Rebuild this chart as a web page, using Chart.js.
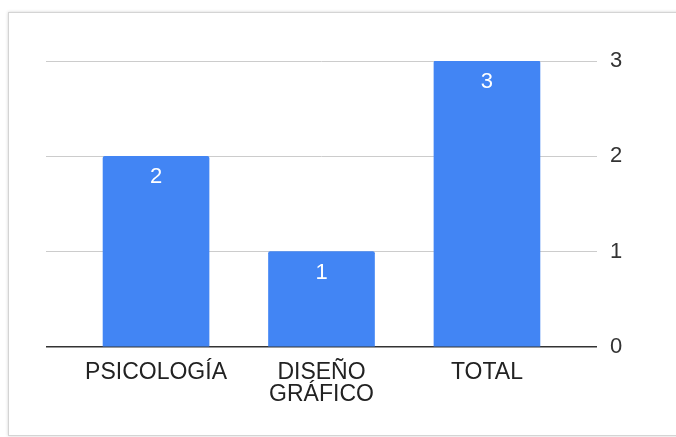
<!DOCTYPE html>
<html>
<head>
<meta charset="utf-8">
<script src="https://cdn.jsdelivr.net/npm/chart.js@4"></script>
<style>
  html, body { margin: 0; padding: 0; background: #fff; }
  body { width: 676px; height: 437px; position: relative; overflow: hidden; font-family: "Liberation Sans", Arial, sans-serif; }
  .frame {
    position: absolute; left: 8px; top: 12px; width: 720px; height: 422px;
    border: 1px solid #d4d4d4;
    box-shadow: 0 0 3px rgba(0, 0, 0, 0.18);
    background: #fff;
  }
  canvas { position: absolute; left: 0; top: 0; }
</style>
</head>
<body>
<div class="frame"></div>
<canvas id="chart" width="676" height="437"></canvas>
<script>
// datos
const categorias = ['PSICOLOGÍA', 'DISEÑO GRÁFICO', 'TOTAL'];
const valores = [2, 1, 3];
const ticksY = [0, 1, 2, 3];

const FUENTE = '"Liberation Sans", Arial, sans-serif';

// etiquetas blancas dentro de cada barra
const etiquetasBarras = {
  id: 'etiquetasBarras',
  afterDatasetsDraw(chart) {
    const ctx = chart.ctx;
    const meta = chart.getDatasetMeta(0);
    ctx.save();
    ctx.fillStyle = '#ffffff';
    ctx.font = '22px ' + FUENTE;
    ctx.textAlign = 'center';
    ctx.textBaseline = 'middle';
    meta.data.forEach((bar, i) => {
      ctx.fillText(String(valores[i]), bar.x, bar.y + 21);
    });
    ctx.restore();
  }
};

new Chart(document.getElementById('chart').getContext('2d'), {
  type: 'bar',
  data: {
    datasets: [{
      data: valores.map((v, i) => ({ x: i, y: v })),
      backgroundColor: '#4285f4',
      borderRadius: 2,
      borderSkipped: 'bottom',
      barThickness: 106,
    }],
  },
  options: {
    responsive: false,
    animation: false,
    layout: { padding: { top: 61, left: 46, right: 39, bottom: 0 } },
    plugins: {
      legend: { display: false },
      tooltip: { enabled: false },
    },
    scales: {
      x: {
        type: 'linear',
        offset: false,
        min: -0.665,
        max: 2.665,
        grid: { display: false, drawTicks: false },
        border: { display: false },
        afterFit(scale) { scale.height = 90; },
        ticks: {
          stepSize: 1,
          includeBounds: false,
          autoSkip: false,
          maxRotation: 0,
          padding: 15,
          color: '#222',
          font: { family: FUENTE, size: 23, lineHeight: '22px' },
          callback: (value) => {
            const c = categorias[value];
            if (c === undefined) return '';
            return c.includes(' ') ? c.split(' ') : c;
          },
        },
      },
      y: {
        position: 'right',
        min: ticksY[0],
        max: ticksY[ticksY.length - 1],
        border: { display: false },
        afterFit(scale) { scale.width = 40; },
        grid: {
          drawTicks: false,
          color: (c) => (c.tick && c.tick.value === 0 ? '#333333' : '#cccccc'),
          lineWidth: (c) => (c.tick && c.tick.value === 0 ? 1.5 : 1),
        },
        afterBuildTicks(scale) { scale.ticks = ticksY.map(v => ({ value: v })); },
        ticks: {
          padding: 13,
          color: '#333',
          font: { family: FUENTE, size: 22 },
        },
      },
    },
  },
  plugins: [etiquetasBarras],
});
</script>
</body>
</html>
